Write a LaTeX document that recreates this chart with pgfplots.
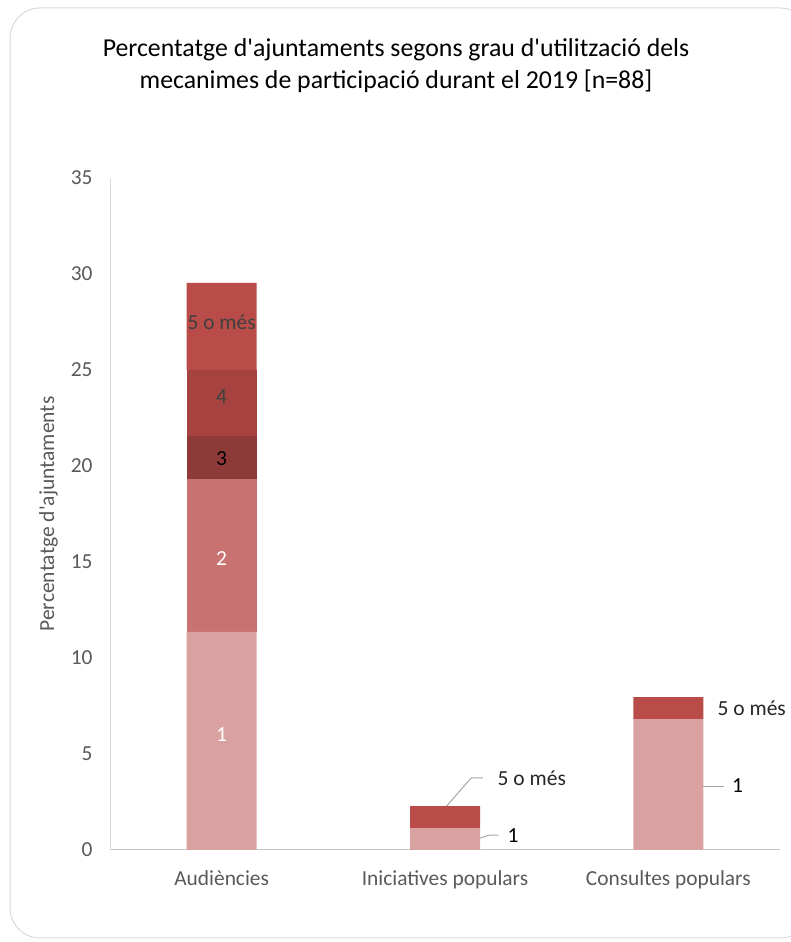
\documentclass[border=0pt]{standalone}
\usepackage{pgfplots}
\pgfplotsset{compat=1.18}
\usepackage{fontspec}
\setmainfont{Carlito}
\definecolor{cA}{HTML}{D9A2A1}
\definecolor{cB}{HTML}{C87371}
\definecolor{cC}{HTML}{8E3A38}
\definecolor{cD}{HTML}{A6423F}
\definecolor{cE}{HTML}{B94C49}
\definecolor{txt}{HTML}{595959}
\definecolor{axl}{HTML}{D9D9D9}
\tikzset{lbl/.style={font=\fontsize{21.5}{25}\selectfont}}
\begin{document}
\begin{tikzpicture}[x=1pt,y=1pt]
\useasboundingbox (0,0) rectangle (790,942);
\draw[color=axl, line width=1pt, rounded corners=30pt] (10,4) rectangle (810,934);
\node[align=center, font=\fontsize{25.8}{32}\selectfont, text=black] at (396,876) {Percentatge d\textquotesingle ajuntaments segons grau d\textquotesingle utilització dels\\mecanimes de participació durant el 2019 [n=88]};
\begin{axis}[
  at={(110pt,92pt)}, anchor=south west,
  scale only axis, width=670pt, height=672pt,
  ybar stacked, bar width=70pt,
  xmin=-0.5, xmax=2.5, ymin=0, ymax=35,
  ytick={0,5,...,35},
  xtick={0,1,2},
  xticklabels={Audiències, Iniciatives populars, Consultes populars},
  axis x line*=bottom, axis y line*=left,
  axis line style={color=axl, line width=1pt},
  x axis line style={color=axl!80!gray},
  major tick length=0pt,
  tick label style={font=\fontsize{21.4}{25}\selectfont, text=txt},
  /pgf/number format/assume math mode=true,
  yticklabel style={xshift=-14pt},
  xticklabel style={yshift=-17pt},
  ylabel={Percentatge d\textquotesingle ajuntaments},
  ylabel style={font=\fontsize{21.5}{24}\selectfont, text=txt, yshift=6pt},
  clip=false,
]
\addplot[fill=cA, draw=none] coordinates {(0,11.36) (1,1.14) (2,6.82)};
\addplot[fill=cB, draw=none] coordinates {(0,7.95) (1,0) (2,0)};
\addplot[fill=cC, draw=none] coordinates {(0,2.27) (1,0) (2,0)};
\addplot[fill=cD, draw=none] coordinates {(0,3.41) (1,0) (2,0)};
\addplot[fill=cE, draw=none] coordinates {(0,4.55) (1,1.14) (2,1.14)};
\coordinate (L1) at (axis cs:0,6.0);
\coordinate (L2) at (axis cs:0,15.2);
\coordinate (L3) at (axis cs:0,20.4);
\coordinate (L4) at (axis cs:0,23.6);
\coordinate (L5) at (axis cs:0,27.5);
\draw[color=gray!70, line width=1pt] (axis cs:1.0,2.19) -- (axis cs:1.117,3.75) -- (axis cs:1.17,3.75);
\node[lbl, anchor=west, text=black!85] at (axis cs:1.22,3.72) {5 o més};
\draw[color=gray!70, line width=1pt] (axis cs:1.157,0.62) -- (axis cs:1.20,0.78) -- (axis cs:1.24,0.78);
\node[lbl, anchor=west, text=black] at (axis cs:1.265,0.74) {1};
\node[lbl, anchor=west, text=black!85] at (axis cs:2.205,7.36) {5 o més};
\draw[color=gray!70, line width=1pt] (axis cs:2.157,3.33) -- (axis cs:2.25,3.33);
\node[lbl, anchor=west, text=black] at (axis cs:2.27,3.33) {1};
\end{axis}
\node[lbl, text=white] at (L1) {1};
\node[lbl, text=white] at (L2) {2};
\node[lbl, text=black] at (L3) {3};
\node[lbl, text=black!75] at (L4) {4};
\node[lbl, text=black!75] at (L5) {5 o més};
\end{tikzpicture}
\end{document}
